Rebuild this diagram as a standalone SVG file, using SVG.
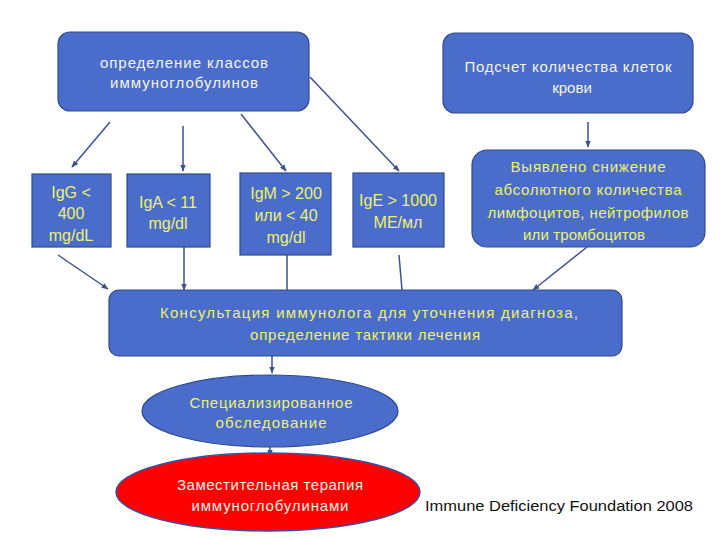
<svg xmlns="http://www.w3.org/2000/svg" width="720" height="540" viewBox="0 0 720 540">
<defs>
<marker id="ah" viewBox="0 0 10 10" refX="9" refY="5" markerWidth="7" markerHeight="7" markerUnits="userSpaceOnUse" orient="auto">
<path d="M0,1 L10,5 L0,9 Z" fill="#3e5192"/>
</marker>
<style>
.box{fill:#4a6dcb;stroke:#2f4a8c;stroke-width:1.2}
.red{fill:#ff0000;stroke:#3d4fa3;stroke-width:1.5}
.t{font-family:"Liberation Sans","DejaVu Sans",sans-serif;font-size:15px;text-anchor:middle}
.w{fill:#f4f4e6}
.y{fill:#eef26a}
.n{font-size:16px}
.c{stroke:#3e5192;stroke-width:1.5;fill:none}
.ca{stroke:#3e5192;stroke-width:1.5;fill:none;marker-end:url(#ah)}
</style>
</defs>
<rect width="720" height="540" fill="#ffffff"/>

<g id="connectors">
<line class="ca" x1="110" y1="122" x2="72" y2="167"/>
<line class="ca" x1="183" y1="126" x2="183" y2="171"/>
<line class="ca" x1="241" y1="114" x2="286" y2="171"/>
<line class="ca" x1="310" y1="77" x2="399" y2="171"/>
<line class="ca" x1="588" y1="122" x2="588" y2="147"/>
<line class="ca" x1="58" y1="255" x2="108" y2="289"/>
<line class="ca" x1="184" y1="247" x2="184" y2="290"/>
<line class="c" x1="287" y1="255" x2="287" y2="290"/>
<line class="c" x1="399" y1="255" x2="402" y2="290"/>
<line class="ca" x1="587" y1="247" x2="533" y2="290"/>
<line class="ca" x1="272" y1="356" x2="272" y2="373"/>
<line class="ca" x1="270" y1="447" x2="270" y2="456"/>
</g>

<g id="n-classes">
<rect class="box" x="58" y="32" width="251" height="79" rx="12"/>
<text class="t w" x="184" y="68" textLength="168" lengthAdjust="spacing">определение классов</text>
<text class="t w" x="184" y="88" textLength="148" lengthAdjust="spacing">иммуноглобулинов</text>
</g>

<g id="n-count">
<rect class="box" x="443" y="33" width="250" height="80" rx="12"/>
<text class="t w" x="568" y="72" textLength="207" lengthAdjust="spacing">Подсчет количества клеток</text>
<text class="t w" x="572" y="93">крови</text>
</g>

<g id="n-igg">
<rect class="box" x="32" y="174" width="79" height="73"/>
<text class="t y n" x="71" y="198">IgG &lt;</text>
<text class="t y n" x="71" y="219">400</text>
<text class="t y n" x="71" y="241">mg/dL</text>
</g>

<g id="n-iga">
<rect class="box" x="127" y="174" width="83" height="73"/>
<text class="t y n" x="168" y="208">IgA &lt; 11</text>
<text class="t y n" x="168" y="229">mg/dl</text>
</g>

<g id="n-igm">
<rect class="box" x="240" y="173" width="91" height="82"/>
<text class="t y n" x="286" y="199">IgM &gt; 200</text>
<text class="t y n" x="286" y="221">или &lt; 40</text>
<text class="t y n" x="286" y="243">mg/dl</text>
</g>

<g id="n-ige">
<rect class="box" x="353" y="173" width="91" height="74"/>
<text class="t y n" x="398" y="206">IgE &gt; 1000</text>
<text class="t y n" x="398" y="228">МЕ/мл</text>
</g>

<g id="n-decrease">
<rect class="box" x="472" y="150" width="233" height="97" rx="15"/>
<text class="t y" x="588" y="172" textLength="155" lengthAdjust="spacing">Выявлено снижение</text>
<text class="t y" x="588" y="195" textLength="187" lengthAdjust="spacing">абсолютного количества</text>
<text class="t y" x="588" y="218" textLength="201" lengthAdjust="spacing">лимфоцитов, нейтрофилов</text>
<text class="t y" x="584" y="240" textLength="122" lengthAdjust="spacing">или тромбоцитов</text>
</g>

<g id="n-consult">
<rect class="box" x="109" y="290" width="513" height="66" rx="10"/>
<text class="t y" x="369" y="318" textLength="418" lengthAdjust="spacing">Консультация иммунолога  для  уточнения диагноза,</text>
<text class="t y" x="365" y="340" textLength="230" lengthAdjust="spacing">определение тактики лечения</text>
</g>

<g id="n-special">
<ellipse class="box" cx="270" cy="411" rx="128" ry="36"/>
<text class="t y" x="271" y="408" textLength="163" lengthAdjust="spacing">Специализированное</text>
<text class="t y" x="271" y="428" textLength="111" lengthAdjust="spacing">обследование</text>
</g>

<g id="n-therapy">
<ellipse class="red" cx="268" cy="492" rx="152" ry="39"/>
<text class="t w" x="270" y="490" textLength="186" lengthAdjust="spacing">Заместительная терапия</text>
<text class="t w" x="270" y="511" textLength="157" lengthAdjust="spacing">иммуноглобулинами</text>
</g>

<text x="425" y="511" font-family="Liberation Sans, DejaVu Sans, sans-serif" font-size="15.5" fill="#111111" textLength="268" lengthAdjust="spacingAndGlyphs">Immune Deficiency Foundation 2008</text>
</svg>
